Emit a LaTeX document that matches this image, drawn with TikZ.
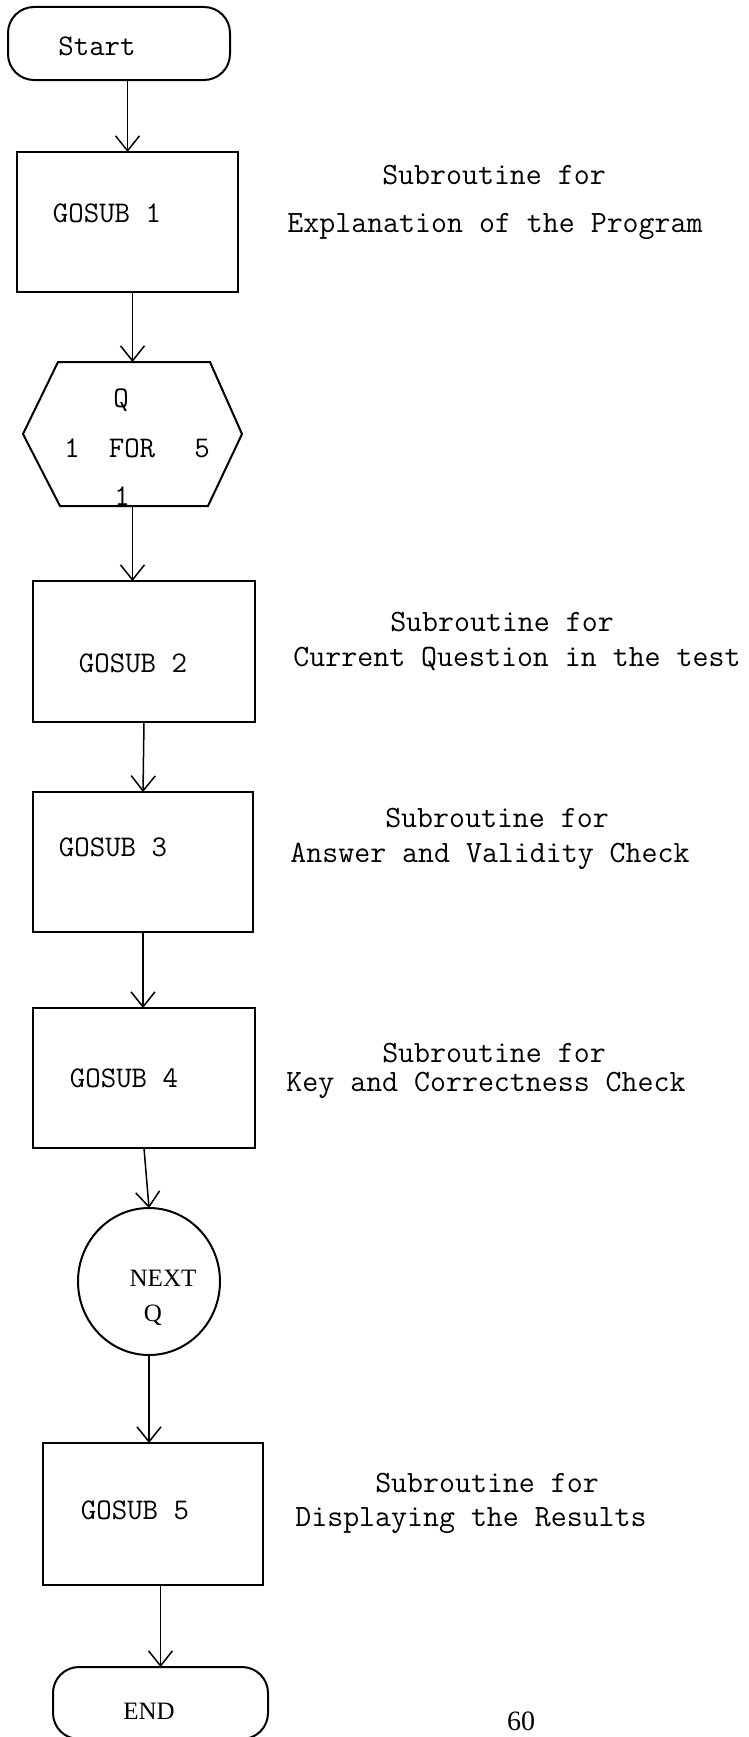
\documentclass[tikz,border=0pt]{standalone}
\usepackage{fontspec}
\usetikzlibrary{arrows.meta,shapes.geometric}
\newfontfamily\typew{Latin Modern Mono}
\newfontfamily\serifw{Liberation Serif}
\tikzset{
  shp/.style={draw, line width=2pt, inner sep=0pt, outer sep=0pt},
  gbox/.style={shp, rectangle},
  term/.style={shp, rectangle, rounded corners=26pt},
  arr/.style={line width=1.5pt, -{Straight Barb[length=15pt,width=24pt,line width=1.5pt]}},
  lbl/.style={anchor=base, inner sep=0pt, font=\typew\fontsize{30}{32}\selectfont},
  side/.style={anchor=base, inner sep=0pt, font=\typew\fontsize{31}{33}\selectfont},
  slbl/.style={anchor=base, inner sep=0pt, font=\serifw\fontsize{25}{28}\selectfont}
}
\begin{document}
\begin{tikzpicture}[x=1pt,y=-1pt]
\useasboundingbox (0,0) rectangle (749,1737);
\clip (0,0) rectangle (749,1737);
\fill[white] (0,0) rectangle (749,1737);

% shapes
\node[term, minimum width=222pt, minimum height=73pt] (start) at (119,43.5) {};
\node[gbox, minimum width=221pt, minimum height=140pt] (g1) at (127.5,222) {};
\node[rectangle, inner sep=0pt, outer sep=0pt, minimum width=219pt, minimum height=144pt] (hex) at (132.5,434) {};
\draw[line width=2pt, line join=miter]
  ([xshift=35pt]hex.north west) -- ([xshift=-32pt]hex.north east) -- (hex.east)
  -- ([xshift=-34pt]hex.south east) -- ([xshift=37pt]hex.south west) -- (hex.west) -- cycle;
\node[gbox, minimum width=222pt, minimum height=141pt] (g2) at (144,651.5) {};
\node[gbox, minimum width=220pt, minimum height=140pt] (g3) at (143,862) {};
\node[gbox, minimum width=222pt, minimum height=140pt] (g4) at (144,1078) {};
\node[shp, ellipse, minimum width=142pt, minimum height=147pt] (nq) at (149,1281.5) {};
\node[gbox, minimum width=220pt, minimum height=142pt] (g5) at (153,1514) {};
\node[term, minimum width=215pt, minimum height=72pt] (end) at (160.5,1703) {};

% connectors
\draw[arr] (start.south -| g1.north) -- (g1.north);
\draw[arr] (g1.south -| hex.north) -- (hex.north);
\draw[arr] (hex.south) -- (hex.south |- g2.north);
\draw[arr] (g2.south) -- (g3.north);
\draw[arr] (g3.south) -- (g3.south |- g4.north);
\draw[arr] (g4.south) -- (nq.north);
\draw[arr] (nq.south) -- (nq.south |- g5.north);
\draw[arr] (end.north |- g5.south) -- (end.north);

% texts in shapes
\node[lbl] (tstart) at (97,56) {Start};
\node[lbl] (tg1) at (107,222) {GOSUB 1};
\node[lbl] (tq) at (121,407) {Q};
\node[lbl] (tone) at (72,457) {1};
\node[lbl] (tfor) at (132,457) {FOR};
\node[lbl] (tfive) at (202,457) {5};
\node[lbl] (tstep) at (122,505) {1};
\node[lbl] (tg2) at (133,672) {GOSUB 2};
\node[lbl] (tg3) at (113,856) {GOSUB 3};
\node[lbl] (tg4) at (124,1087) {GOSUB 4};
\node[slbl] (tnext) at (163,1286) {NEXT};
\node[slbl] (tnq) at (153,1321) {Q};
\node[lbl] (tg5) at (135,1519) {GOSUB 5};
\node[slbl] (tend) at (149,1719) {END};

% side descriptions
\node[side] (s1a) at (494,184) {Subroutine for};
\node[side] (s1b) at (495,232) {Explanation of the Program};
\node[side] (s2a) at (502,631) {Subroutine for};
\node[side] (s2b) at (517,666) {Current Question in the test};
\node[side] (s3a) at (497,827) {Subroutine for};
\node[side] (s3b) at (490,862) {Answer and Validity Check};
\node[side] (s4a) at (494,1062) {Subroutine for};
\node[side] (s4b) at (486,1091) {Key and Correctness Check};
\node[side] (s5a) at (487,1492) {Subroutine for};
\node[side] (s5b) at (471,1526) {Displaying the Results};

% page number
\node[anchor=base, inner sep=0pt, font=\serifw\fontsize{28}{30}\selectfont] (pg) at (521,1730) {60};
\end{tikzpicture}
\end{document}
